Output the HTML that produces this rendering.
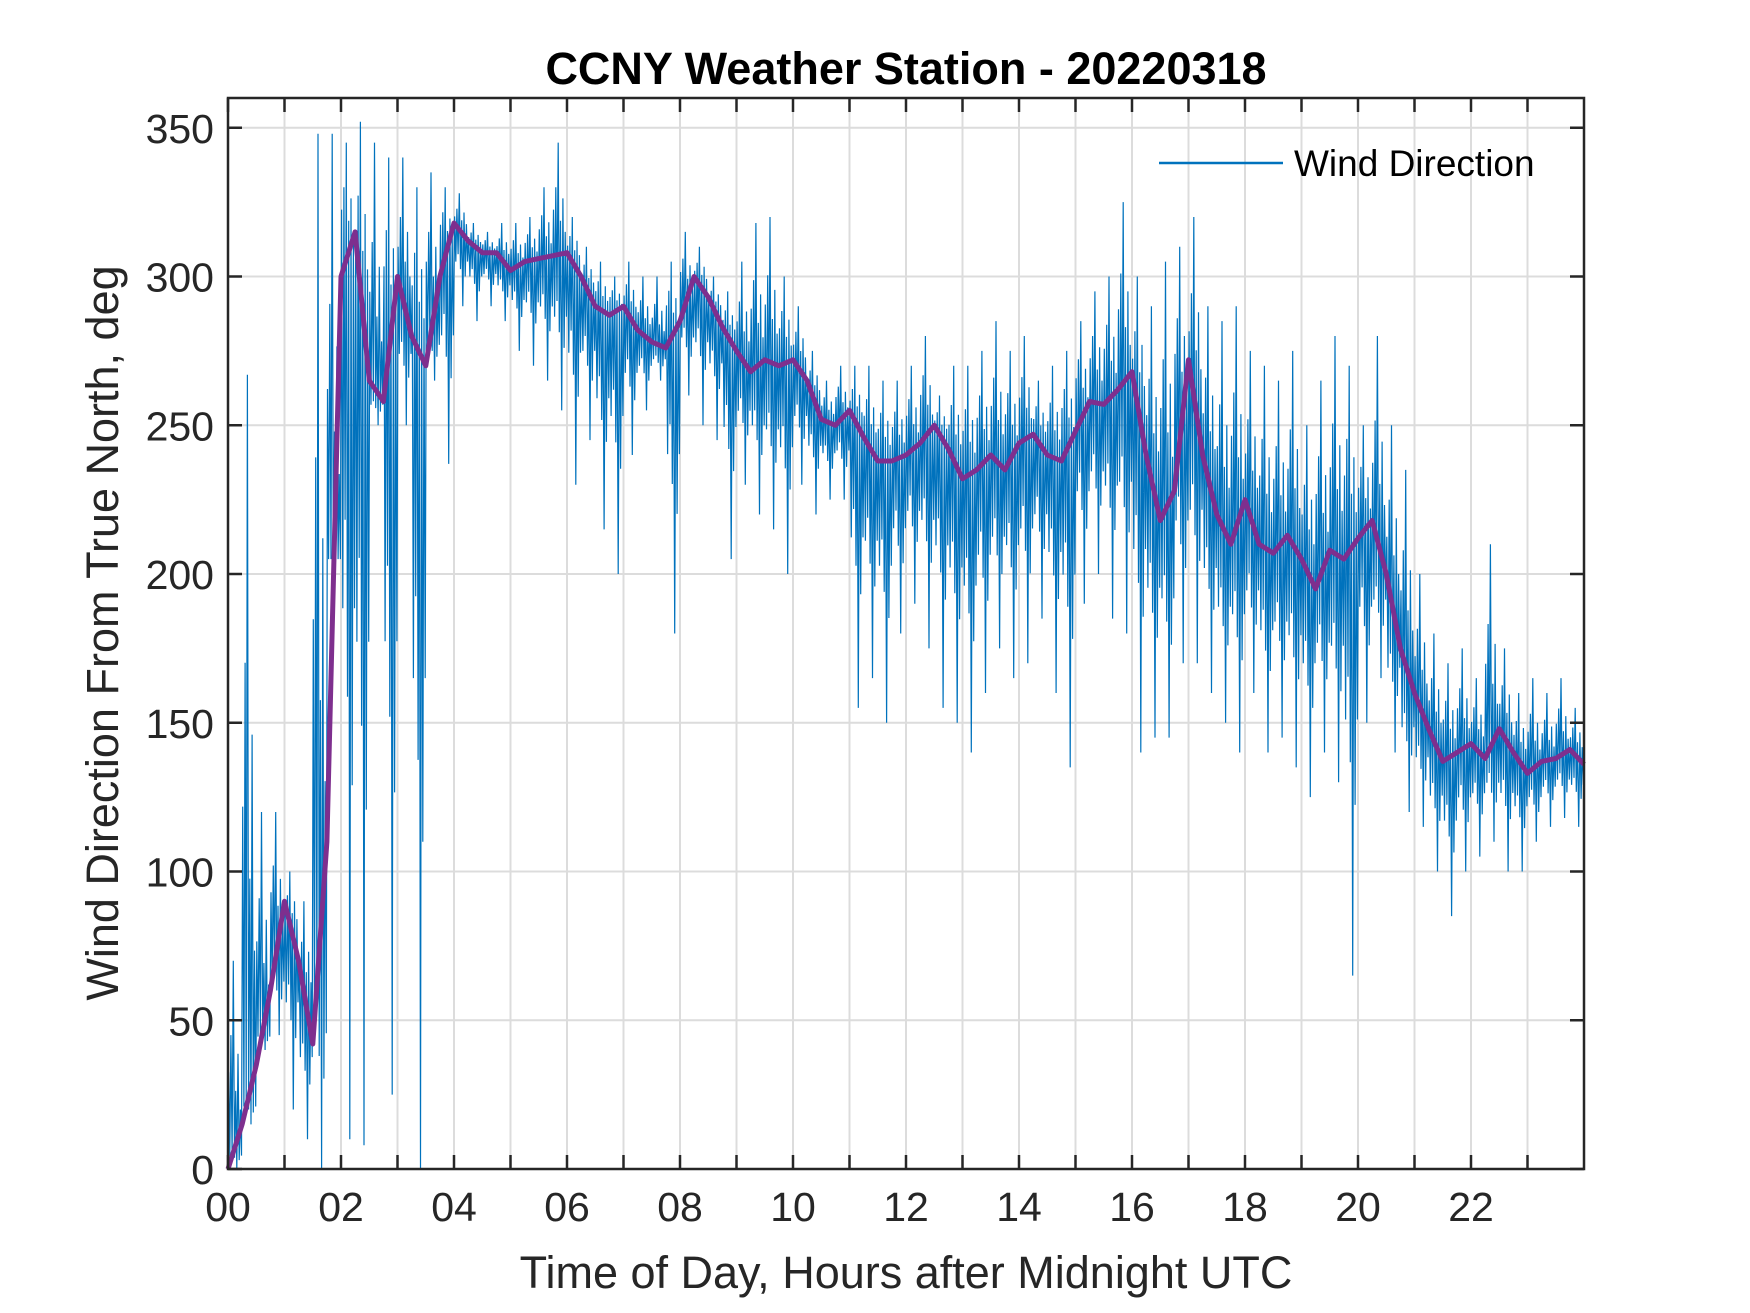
<!DOCTYPE html>
<html><head><meta charset="utf-8">
<style>
html,body{margin:0;padding:0;background:#fff;}
svg{display:block;font-family:"Liberation Sans",Arial,sans-serif;}
</style></head>
<body>
<svg id="chart" width="1750" height="1313" viewBox="0 0 1750 1313" xmlns="http://www.w3.org/2000/svg">
<rect width="1750" height="1313" fill="#fff"/>
<g id="grid"></g>
<g id="series"></g>
<g id="axes"></g>
<text x="906" y="84" text-anchor="middle" font-size="45" font-weight="bold" fill="#000">CCNY Weather Station - 20220318</text>
<text x="906" y="1288" text-anchor="middle" font-size="45" fill="#262626">Time of Day, Hours after Midnight UTC</text>
<text transform="translate(118,633) rotate(-90)" text-anchor="middle" font-size="45" fill="#262626">Wind Direction From True North, deg</text>
<g>
<line x1="1159" y1="163" x2="1283" y2="163" stroke="#0072BD" stroke-width="2.5"/>
<text x="1294" y="176" font-size="37" fill="#000">Wind Direction</text>
</g>
</svg>
<script>
// data: hours sampled every 0.25 h
const stepHours = 0.25;
const smoothDir = [0,15,35,60,90,70,42,110,300,315,265,258,300,280,270,300,318,312,308,308,302,305,306,307,308,300,290,287,290,282,278,276,285,300,293,283,275,268,272,270,272,265,252,250,255,246,238,238,240,244,250,242,232,235,240,235,244,247,240,238,248,258,257,262,268,240,218,228,272,240,220,210,225,210,207,213,205,195,208,205,212,218,200,175,160,148,137,140,143,138,148,140,133,137,138,141,136];
const rawLow  = [0,15,40,45,20,10,0,290,10,8,250,25,250,0,265,237,290,285,290,285,275,270,265,255,230,245,215,200,240,255,265,180,260,250,245,205,230,220,215,200,230,220,225,225,155,165,150,180,190,175,155,150,140,160,175,165,170,185,160,135,190,200,185,180,140,145,145,170,170,160,150,140,160,140,145,135,125,140,130,65,150,165,140,120,115,100,85,100,105,110,100,100,110,115,118,115];
const rawHigh = [70,267,120,120,100,90,348,348,345,352,345,340,340,330,335,330,328,318,315,318,318,320,330,345,320,310,305,300,305,300,300,305,315,310,300,295,305,318,320,300,290,275,265,270,270,270,265,265,270,280,260,270,270,275,285,275,280,265,270,275,285,295,300,325,300,290,305,310,320,290,285,290,275,270,265,275,250,265,280,270,250,280,250,235,200,180,170,175,165,210,175,160,165,160,165,155];
const yTicks = [0,50,100,150,200,250,300,350];
const xTickLabels = ["00","02","04","06","08","10","12","14","16","18","20","22"];

const L=228, R=1584, T=98, B=1169, XMAX=24, YMAX=360;
const xs = h => L + h/XMAX*(R-L);
const ys = v => B - v/YMAX*(B-T);
const NS='http://www.w3.org/2000/svg';
function mk(tag, attrs, parent){const e=document.createElementNS(NS,tag);for(const k in attrs)e.setAttribute(k,attrs[k]);parent.appendChild(e);return e;}
const grid=document.getElementById('grid'), series=document.getElementById('series'), axes=document.getElementById('axes');

for(let h=1;h<XMAX;h++){
  const g=mk('line',{x1:xs(h),x2:xs(h),y1:T,y2:B,stroke:'#dcdcdc','stroke-width':2},grid);
  
  
}
yTicks.forEach(v=>{
  if(v===0)return;
  const g=mk('line',{x1:L,x2:R,y1:ys(v),y2:ys(v),stroke:'#dcdcdc','stroke-width':2},grid);
  
  
});

// raw wind direction (blue) drawn from bin envelopes
const pattern=[0.4,-0.4,0.6,-0.3,1,-0.5,0.3,-1,0.5,-0.6,0.2,-0.4];
let pts=[];
for(let i=0;i<rawLow.length;i++){
  const mean=(smoothDir[i]+smoothDir[i+1])/2;
  const lo=Math.min(rawLow[i],mean), hi=Math.max(rawHigh[i],mean);
  for(let k=0;k<pattern.length;k++){
    const f=pattern[k];
    const v=f>=0? mean+f*(hi-mean) : mean+f*(mean-lo);
    const h=(i+(k+0.5)/pattern.length)*stepHours;
    pts.push(xs(h).toFixed(1)+','+ys(v).toFixed(1));
  }
}
const raw=mk('polyline',{points:pts.join(' '),fill:'none',stroke:'#0072BD','stroke-width':1.2,'stroke-linejoin':'miter'},series);



const sp=smoothDir.map((v,i)=>xs(i*stepHours).toFixed(1)+','+ys(v).toFixed(1)).join(' ');
const sm=mk('polyline',{points:sp,fill:'none',stroke:'#7E2F8E','stroke-width':5,'stroke-linejoin':'round'},series);



// axes box
const box=mk('rect',{x:L,y:T,width:R-L,height:B-T,fill:'none',stroke:'#262626','stroke-width':2.5},axes);


for(let h=0;h<XMAX;h++){
  mk('line',{x1:xs(h),x2:xs(h),y1:B,y2:B-14,stroke:'#262626','stroke-width':2.5},axes);
  mk('line',{x1:xs(h),x2:xs(h),y1:T,y2:T+14,stroke:'#262626','stroke-width':2.5},axes);
}
xTickLabels.forEach((lab,i)=>{
  const t=mk('text',{x:xs(i*2),y:B+52,'text-anchor':'middle','font-size':41,fill:'#262626'},axes);
  t.textContent=lab;
  
  
});
yTicks.forEach(v=>{
  mk('line',{x1:L,x2:L+14,y1:ys(v),y2:ys(v),stroke:'#262626','stroke-width':2.5},axes);
  mk('line',{x1:R,x2:R-14,y1:ys(v),y2:ys(v),stroke:'#262626','stroke-width':2.5},axes);
  const t=mk('text',{x:L-14,y:ys(v)+15,'text-anchor':'end','font-size':41,fill:'#262626'},axes);
  t.textContent=v;
  
  
});
</script>
</body></html>
